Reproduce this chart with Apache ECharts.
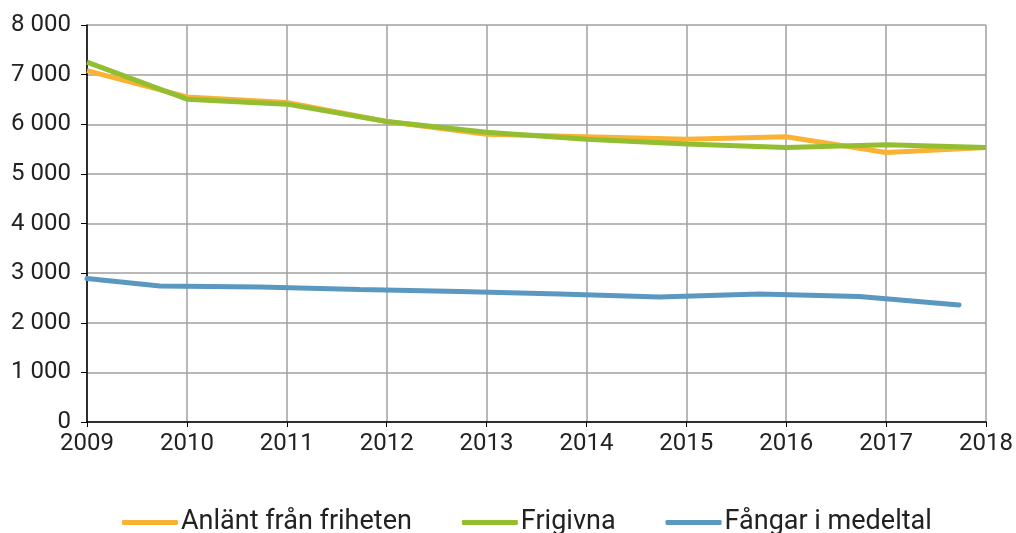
<!DOCTYPE html>
<html>
<head>
<meta charset="utf-8">
<script src="https://cdn.jsdelivr.net/npm/echarts@6/dist/echarts.min.js"></script>
<style>
	body { margin: 0; background: #fff; }
	#chart { width: 1016px; height: 533px; }
</style>
</head>
<body>
<div id="chart"></div>
<script>
	// år på x-axeln
	var years = [2009, 2010, 2011, 2012, 2013, 2014, 2015, 2016, 2017, 2018];
	var anlant = [7080, 6550, 6440, 6055, 5800, 5750, 5700, 5750, 5430, 5530];
	var frigivna = [7250, 6505, 6405, 6055, 5840, 5700, 5600, 5530, 5585, 5530];
	// fångar i medeltal ligger förskjutet i originalet
	var fangarX = [2009, 2009.73, 2010.73, 2011.73, 2012.73, 2013.73, 2014.73, 2015.73, 2016.73, 2017.73];
	var fangar = [2890, 2742, 2720, 2670, 2630, 2580, 2520, 2580, 2530, 2360];

	function pairs(xs, ys) {
		var out = [];
		for (var i = 0; i < xs.length; i++) {
			out.push([xs[i], ys[i]]);
		}
		return out;
	}

	var font = 'Roboto, "DejaVu Sans", sans-serif';
	var myChart = echarts.init(document.getElementById('chart'));
	myChart.setOption({
		animation: false,
		grid: { left: 87, right: 27, top: 25, bottom: 111 },
		legend: {
			top: 504,
			left: 117,
			itemWidth: 56,
			itemHeight: 5,
			itemGap: 50,
			icon: 'roundRect',
			textStyle: { fontFamily: font, fontSize: 27, color: '#222', padding: [0, 0, 0, -2] },
			data: ['Anlänt från friheten', 'Frigivna', 'Fångar i medeltal']
		},
		xAxis: {
			type: 'value',
			min: 2009,
			max: 2018,
			interval: 1,
			axisLine: { lineStyle: { color: '#000', width: 1.5 } },
			axisTick: { show: true, length: 5, lineStyle: { color: '#000' } },
			splitLine: { show: true, lineStyle: { color: '#a0a0a0', width: 1.5 } },
			axisLabel: {
				fontFamily: font, fontSize: 24, color: '#222', margin: 10,
				formatter: function (v) { return String(v); }
			}
		},
		yAxis: {
			type: 'value',
			min: 0,
			max: 8000,
			interval: 1000,
			axisLine: { show: true, lineStyle: { color: '#000', width: 1.5 } },
			axisTick: { show: true, length: 6, lineStyle: { color: '#000' } },
			splitLine: { lineStyle: { color: '#a0a0a0', width: 1.5 } },
			axisLabel: {
				fontFamily: font, fontSize: 24, color: '#222', margin: 16,
				formatter: function (v) {
					return String(v).replace(/\B(?=(\d{3})+(?!\d))/g, ' ');
				}
			}
		},
		series: [{
			name: 'Anlänt från friheten',
			type: 'line',
			data: pairs(years, anlant),
			showSymbol: false,
			color: '#f9b233',
			lineStyle: { width: 5 }
		}, {
			name: 'Frigivna',
			type: 'line',
			data: pairs(years, frigivna),
			showSymbol: false,
			color: '#93be31',
			lineStyle: { width: 5 }
		}, {
			name: 'Fångar i medeltal',
			type: 'line',
			data: pairs(fangarX, fangar),
			showSymbol: false,
			color: '#5b98c1',
			lineStyle: { width: 5, cap: 'round' }
		}]
	});
</script>
</body>
</html>
